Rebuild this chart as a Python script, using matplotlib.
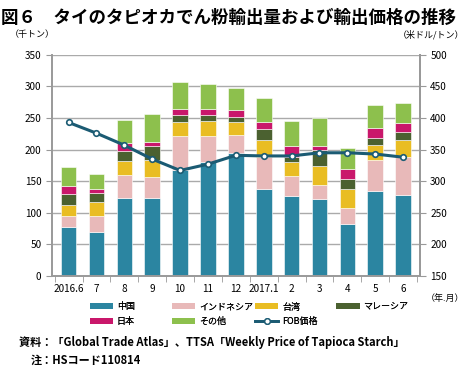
"""
Thai tapioca starch exports by destination and FOB price
"""

import numpy as np
import matplotlib
matplotlib.use('Agg')
import matplotlib.pyplot as plt
from matplotlib.lines import Line2D
from matplotlib.patches import Patch

plt.rcParams['font.family'] = ['Noto Sans CJK JP', 'DejaVu Sans']

months = ['2016.6', '7', '8', '9', '10', '11', '12', '2017.1', '2', '3', '4', '5', '6']

# export volume by destination (thousand tons)
china = [78, 70, 124, 124, 168, 180, 194, 138, 126, 122, 83, 134, 128]
indonesia = [17, 25, 36, 32, 53, 42, 29, 51, 32, 22, 25, 49, 61]
taiwan = [18, 22, 22, 27, 23, 24, 20, 27, 22, 30, 29, 24, 26]
malaysia = [17, 14, 16, 23, 10, 8, 8, 17, 9, 26, 16, 11, 13]
japan = [12, 6, 12, 6, 11, 10, 11, 10, 16, 6, 16, 17, 14]
other = [30, 24, 37, 44, 42, 40, 36, 38, 40, 44, 33, 35, 32]

# FOB price (USD/ton)
fob = [393, 376, 357, 335, 317, 327, 341, 340, 340, 345, 345, 343, 338]

series = [
    ('中国', china, '#2b85a1'),
    ('インドネシア', indonesia, '#e8b9b9'),
    ('台湾', taiwan, '#e9bd23'),
    ('マレーシア', malaysia, '#4b6130'),
    ('日本', japan, '#c9176b'),
    ('その他', other, '#8dc04d'),
]
line_color = '#1b5b73'

fig = plt.figure(figsize=(4.67, 3.68), dpi=100)
ax = fig.add_axes([0.111, 0.25, 0.788, 0.601])

x = np.arange(len(months))
bottom = np.zeros(len(months))
for name, vals, color in series:
    ax.bar(x, vals, 0.56, bottom=bottom, color=color, edgecolor='white', linewidth=0.4, zorder=2)
    bottom += np.array(vals)

ax.set_ylim(0, 350)
ax.set_yticks(range(0, 351, 50))
ax.set_xlim(-0.6, len(months) - 0.4)
ax.set_xticks(x)
ax.set_xticklabels(months)
ax.set_xticks(np.arange(-0.5, len(months), 1), minor=True)
ax.tick_params(axis='x', which='major', length=0, labelsize=7.2, pad=6)
ax.tick_params(axis='x', which='minor', length=4, color='#999999')
ax.tick_params(axis='y', labelsize=7.2, length=4, color='#999999')
ax.grid(axis='y', color='#aaaaaa', linewidth=1.0, zorder=0)
ax.set_axisbelow(True)
ax.spines['top'].set_visible(False)
for side in ['left', 'right', 'bottom']:
    ax.spines[side].set_color('#999999')
    ax.spines[side].set_linewidth(1.4)

ax2 = ax.twinx()
ax2.set_ylim(150, 500)
ax2.set_yticks(range(150, 501, 50))
ax2.tick_params(axis='y', labelsize=7.2, length=4, color='#999999')
for side in ['top', 'left', 'bottom']:
    ax2.spines[side].set_visible(False)
ax2.spines['right'].set_color('#999999')
ax2.spines['right'].set_linewidth(1.4)
ax2.plot(x, fob, color=line_color, linewidth=2.2, marker='o', markersize=4,
         markerfacecolor='white', markeredgecolor=line_color, markeredgewidth=1.2)

fig.text(0.003, 0.975, '図６　タイのタピオカでん粉輸出量および輸出価格の推移',
         fontsize=12.6, fontweight='bold', va='top', ha='left')
fig.text(0.02, 0.905, '（千トン）', fontsize=6.5, va='center', ha='left')
fig.text(0.995, 0.905, '（米ドル/トン）', fontsize=6.5, va='center', ha='right')
fig.text(0.995, 0.19, '（年.月）', fontsize=6.5, va='center', ha='right')

# legend: four fixed-width columns, filled row by row
handles = {name: Patch(facecolor=color) for name, vals, color in series}
handles['FOB価格'] = Line2D([], [], color=line_color, linewidth=2, marker='o', markersize=4,
                          markerfacecolor='white', markeredgecolor=line_color)
columns = [['中国', '日本'], ['インドネシア', 'その他'], ['台湾', 'FOB価格'], ['マレーシア']]
col_x = [0.192, 0.368, 0.546, 0.72]
for names, cx in zip(columns, col_x):
    leg = fig.legend([handles[k] for k in names], names, loc='upper left',
                     bbox_to_anchor=(cx, 0.178), frameon=False, fontsize=6.5,
                     handlelength=2.6, handleheight=0.6, labelspacing=0.6,
                     handletextpad=0.4, borderpad=0, borderaxespad=0)
    fig.add_artist(leg)

fig.text(0.04, 0.07, '資料：「Global Trade Atlas」、TTSA「Weekly Price of Tapioca Starch」',
         fontsize=8, fontweight='bold', va='center', ha='left')
fig.text(0.065, 0.02, '注：HSコード110814', fontsize=8, fontweight='bold', va='center', ha='left')

fig.savefig('out.png', dpi=100)
